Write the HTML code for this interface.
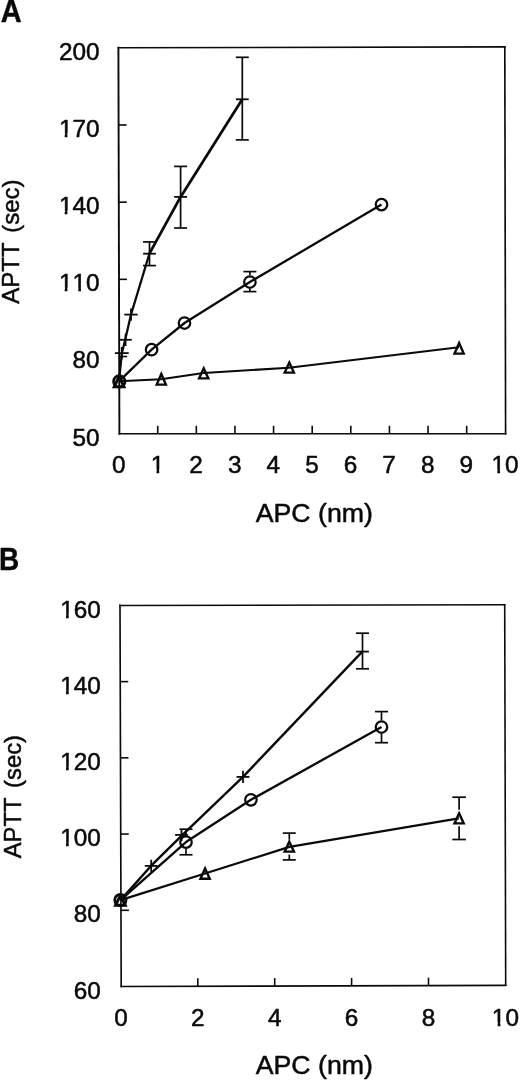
<!DOCTYPE html>
<html lang="en">
<head>
<meta charset="utf-8">
<title>APTT vs APC</title>
<style>
html,body{margin:0;padding:0;background:#fff;}
body{width:520px;height:1081px;overflow:hidden;}
svg{display:block;}
svg text{font-family:"Liberation Sans", sans-serif;fill:#0a0a0a;stroke:#0a0a0a;stroke-linejoin:round;font-kerning:none;}
svg line,svg polyline,svg circle,svg path,svg polygon,svg rect{stroke:#0a0a0a;}
</style>
</head>
<body>
<svg width="520" height="1081" viewBox="0 0 520 1081">
<rect x="0" y="0" width="520" height="1081" fill="#ffffff" stroke="none" style="stroke:none"/>
<g id="panelA">
<text transform="translate(0.80,22.00) scale(0.94,1)" font-size="30.8" text-anchor="start" font-weight="bold" stroke-width="0.4" >A</text>
<line x1="119.40" y1="433.70" x2="118.40" y2="47.80" stroke-width="1.9" stroke-linecap="square"/>
<line x1="118.40" y1="47.80" x2="504.80" y2="46.90" stroke-width="1.55" stroke-linecap="square"/>
<line x1="504.80" y1="46.90" x2="505.60" y2="433.70" stroke-width="1.65" stroke-linecap="square"/>
<line x1="505.60" y1="433.70" x2="119.40" y2="433.70" stroke-width="1.6" stroke-linecap="square"/>
<text transform="translate(99.50,445.60) scale(1.05,1)" font-size="23.2" text-anchor="end" font-weight="normal" stroke-width="0.5" >50</text>
<line x1="119.20" y1="356.52" x2="127.20" y2="356.52" stroke-width="1.6" stroke-linecap="butt"/>
<text transform="translate(99.50,368.42) scale(1.05,1)" font-size="23.2" text-anchor="end" font-weight="normal" stroke-width="0.5" >80</text>
<line x1="119.00" y1="279.34" x2="127.00" y2="279.34" stroke-width="1.6" stroke-linecap="butt"/>
<text transform="translate(99.50,291.24) scale(1.05,1)" font-size="23.2" text-anchor="end" font-weight="normal" stroke-width="0.5" >110</text>
<rect x="59.41" y="287.51" width="5.25" height="5.13" fill="#fff" style="stroke:none"/>
<rect x="67.45" y="287.51" width="5.06" height="5.13" fill="#fff" style="stroke:none"/>
<rect x="72.96" y="287.51" width="5.25" height="5.13" fill="#fff" style="stroke:none"/>
<rect x="81.00" y="287.51" width="5.06" height="5.13" fill="#fff" style="stroke:none"/>
<line x1="118.80" y1="202.16" x2="126.80" y2="202.16" stroke-width="1.6" stroke-linecap="butt"/>
<text transform="translate(99.50,214.06) scale(1.05,1)" font-size="23.2" text-anchor="end" font-weight="normal" stroke-width="0.5" >140</text>
<rect x="59.41" y="210.33" width="5.25" height="5.13" fill="#fff" style="stroke:none"/>
<rect x="67.45" y="210.33" width="5.06" height="5.13" fill="#fff" style="stroke:none"/>
<line x1="118.60" y1="124.98" x2="126.60" y2="124.98" stroke-width="1.6" stroke-linecap="butt"/>
<text transform="translate(99.50,136.88) scale(1.05,1)" font-size="23.2" text-anchor="end" font-weight="normal" stroke-width="0.5" >170</text>
<rect x="59.41" y="133.15" width="5.25" height="5.13" fill="#fff" style="stroke:none"/>
<rect x="67.45" y="133.15" width="5.06" height="5.13" fill="#fff" style="stroke:none"/>
<text transform="translate(99.50,59.70) scale(1.05,1)" font-size="23.2" text-anchor="end" font-weight="normal" stroke-width="0.5" >200</text>
<text transform="translate(118.80,473.00) scale(1.05,1)" font-size="23.2" text-anchor="middle" font-weight="normal" stroke-width="0.5" >0</text>
<line x1="157.72" y1="433.70" x2="157.72" y2="425.80" stroke-width="1.6" stroke-linecap="butt"/>
<text transform="translate(157.42,473.00) scale(1.05,1)" font-size="23.2" text-anchor="middle" font-weight="normal" stroke-width="0.5" >1</text>
<rect x="151.20" y="469.27" width="5.25" height="5.13" fill="#fff" style="stroke:none"/>
<rect x="159.24" y="469.27" width="5.06" height="5.13" fill="#fff" style="stroke:none"/>
<line x1="196.34" y1="433.70" x2="196.34" y2="425.80" stroke-width="1.6" stroke-linecap="butt"/>
<text transform="translate(196.04,473.00) scale(1.05,1)" font-size="23.2" text-anchor="middle" font-weight="normal" stroke-width="0.5" >2</text>
<line x1="234.96" y1="433.70" x2="234.96" y2="425.80" stroke-width="1.6" stroke-linecap="butt"/>
<text transform="translate(234.66,473.00) scale(1.05,1)" font-size="23.2" text-anchor="middle" font-weight="normal" stroke-width="0.5" >3</text>
<line x1="273.58" y1="433.70" x2="273.58" y2="425.80" stroke-width="1.6" stroke-linecap="butt"/>
<text transform="translate(273.28,473.00) scale(1.05,1)" font-size="23.2" text-anchor="middle" font-weight="normal" stroke-width="0.5" >4</text>
<line x1="312.20" y1="433.70" x2="312.20" y2="425.80" stroke-width="1.6" stroke-linecap="butt"/>
<text transform="translate(311.90,473.00) scale(1.05,1)" font-size="23.2" text-anchor="middle" font-weight="normal" stroke-width="0.5" >5</text>
<line x1="350.82" y1="433.70" x2="350.82" y2="425.80" stroke-width="1.6" stroke-linecap="butt"/>
<text transform="translate(350.52,473.00) scale(1.05,1)" font-size="23.2" text-anchor="middle" font-weight="normal" stroke-width="0.5" >6</text>
<line x1="389.44" y1="433.70" x2="389.44" y2="425.80" stroke-width="1.6" stroke-linecap="butt"/>
<text transform="translate(389.14,473.00) scale(1.05,1)" font-size="23.2" text-anchor="middle" font-weight="normal" stroke-width="0.5" >7</text>
<line x1="428.06" y1="433.70" x2="428.06" y2="425.80" stroke-width="1.6" stroke-linecap="butt"/>
<text transform="translate(427.76,473.00) scale(1.05,1)" font-size="23.2" text-anchor="middle" font-weight="normal" stroke-width="0.5" >8</text>
<line x1="466.68" y1="433.70" x2="466.68" y2="425.80" stroke-width="1.6" stroke-linecap="butt"/>
<text transform="translate(466.38,473.00) scale(1.05,1)" font-size="23.2" text-anchor="middle" font-weight="normal" stroke-width="0.5" >9</text>
<text transform="translate(505.00,473.00) scale(1.05,1)" font-size="23.2" text-anchor="middle" font-weight="normal" stroke-width="0.5" >10</text>
<rect x="492.01" y="469.27" width="5.25" height="5.13" fill="#fff" style="stroke:none"/>
<rect x="500.05" y="469.27" width="5.06" height="5.13" fill="#fff" style="stroke:none"/>
<text transform="translate(255.70,522.30) scale(1.04,1)" font-size="25.7" text-anchor="start" font-weight="normal" stroke-width="0.5" >APC (nm)</text>
<text transform="translate(19.0,303.8) rotate(-90)" font-size="24.0" stroke-width="0.5"><tspan>APTT</tspan><tspan dx="9.6">(sec)</tspan></text>
<polyline points="119.00,381.30 121.80,353.60 125.20,339.80 131.00,314.60 149.40,253.70" fill="none" stroke-width="2.25" stroke-linejoin="round"/>
<polyline points="149.40,253.70 180.60,196.90 242.30,99.30" fill="none" stroke-width="2.75" stroke-linejoin="round"/>
<line x1="119.40" y1="339.80" x2="131.80" y2="339.80" stroke-width="1.8" stroke-linecap="butt"/>
<line x1="125.60" y1="333.60" x2="125.60" y2="346.00" stroke-width="1.8" stroke-linecap="butt"/>
<line x1="124.30" y1="314.60" x2="137.70" y2="314.60" stroke-width="1.8" stroke-linecap="butt"/>
<line x1="131.00" y1="308.40" x2="131.00" y2="320.80" stroke-width="1.8" stroke-linecap="butt"/>
<line x1="114.90" y1="353.10" x2="128.70" y2="353.10" stroke-width="1.8" stroke-linecap="butt"/>
<line x1="121.80" y1="346.90" x2="121.80" y2="359.30" stroke-width="1.8" stroke-linecap="butt"/>
<line x1="143.10" y1="253.70" x2="155.90" y2="253.70" stroke-width="1.8" stroke-linecap="butt"/>
<line x1="149.50" y1="253.70" x2="149.50" y2="253.70" stroke-width="1.8" stroke-linecap="butt"/>
<line x1="143.00" y1="241.90" x2="156.00" y2="241.90" stroke-width="1.7" stroke-linecap="butt"/>
<line x1="143.00" y1="265.60" x2="156.00" y2="265.60" stroke-width="1.7" stroke-linecap="butt"/>
<line x1="149.50" y1="241.90" x2="149.50" y2="265.60" stroke-width="1.7" stroke-linecap="butt"/>
<line x1="174.20" y1="196.90" x2="187.00" y2="196.90" stroke-width="1.8" stroke-linecap="butt"/>
<line x1="180.60" y1="196.90" x2="180.60" y2="196.90" stroke-width="1.8" stroke-linecap="butt"/>
<line x1="174.10" y1="166.40" x2="187.10" y2="166.40" stroke-width="1.7" stroke-linecap="butt"/>
<line x1="174.10" y1="228.00" x2="187.10" y2="228.00" stroke-width="1.7" stroke-linecap="butt"/>
<line x1="180.60" y1="166.40" x2="180.60" y2="228.00" stroke-width="1.7" stroke-linecap="butt"/>
<line x1="235.90" y1="99.30" x2="248.70" y2="99.30" stroke-width="1.8" stroke-linecap="butt"/>
<line x1="242.30" y1="99.30" x2="242.30" y2="99.30" stroke-width="1.8" stroke-linecap="butt"/>
<line x1="235.80" y1="57.30" x2="248.80" y2="57.30" stroke-width="1.7" stroke-linecap="butt"/>
<line x1="235.80" y1="139.90" x2="248.80" y2="139.90" stroke-width="1.7" stroke-linecap="butt"/>
<line x1="242.30" y1="57.30" x2="242.30" y2="139.90" stroke-width="1.7" stroke-linecap="butt"/>
<polyline points="119.00,381.30 151.60,349.70 184.50,323.00 249.90,282.00 381.50,204.60" fill="none" stroke-width="2.3" stroke-linejoin="round"/>
<circle cx="119.30" cy="381.40" r="5.75" fill="none" stroke-width="2.7"/>
<circle cx="151.60" cy="349.70" r="5.75" fill="none" stroke-width="2.25"/>
<circle cx="184.50" cy="323.00" r="5.75" fill="none" stroke-width="2.25"/>
<circle cx="249.90" cy="282.00" r="5.75" fill="none" stroke-width="2.25"/>
<circle cx="381.50" cy="204.60" r="5.75" fill="none" stroke-width="2.25"/>
<line x1="243.40" y1="271.60" x2="256.40" y2="271.60" stroke-width="1.7" stroke-linecap="butt"/>
<line x1="243.40" y1="291.60" x2="256.40" y2="291.60" stroke-width="1.7" stroke-linecap="butt"/>
<line x1="249.90" y1="271.60" x2="249.90" y2="275.30" stroke-width="1.7" stroke-linecap="butt"/>
<line x1="249.90" y1="288.70" x2="249.90" y2="291.60" stroke-width="1.7" stroke-linecap="butt"/>
<polyline points="119.00,381.30 161.10,379.20 203.50,373.00 288.90,367.70 459.00,347.20" fill="none" stroke-width="2.1" stroke-linejoin="round"/>
<path d="M119.10 376.50 L124.00 386.90 L114.20 386.90 Z" fill="none" stroke-width="2.9" stroke-linejoin="miter"/>
<path d="M161.30 374.00 L165.90 384.60 L156.70 384.60 Z" fill="none" stroke-width="2.4" stroke-linejoin="miter"/>
<path d="M203.70 368.30 L208.30 378.40 L199.10 378.40 Z" fill="none" stroke-width="2.4" stroke-linejoin="miter"/>
<path d="M289.30 362.60 L293.90 372.60 L284.70 372.60 Z" fill="none" stroke-width="2.4" stroke-linejoin="miter"/>
<path d="M459.10 343.00 L463.70 353.60 L454.50 353.60 Z" fill="none" stroke-width="2.4" stroke-linejoin="miter"/>
</g>
<g id="panelB">
<text transform="translate(-0.90,570.30) scale(0.91,1)" font-size="30.8" text-anchor="start" font-weight="bold" stroke-width="0.4" >B</text>
<line x1="121.20" y1="986.50" x2="120.00" y2="605.40" stroke-width="1.65" stroke-linecap="square"/>
<line x1="120.00" y1="605.40" x2="504.70" y2="604.80" stroke-width="1.55" stroke-linecap="square"/>
<line x1="504.70" y1="604.80" x2="505.70" y2="985.30" stroke-width="1.6" stroke-linecap="square"/>
<line x1="505.70" y1="985.30" x2="121.20" y2="986.50" stroke-width="1.65" stroke-linecap="square"/>
<text transform="translate(100.80,998.70) scale(1.05,1)" font-size="23.2" text-anchor="end" font-weight="normal" stroke-width="0.5" >60</text>
<line x1="120.96" y1="910.28" x2="128.96" y2="910.28" stroke-width="1.6" stroke-linecap="butt"/>
<text transform="translate(100.80,922.48) scale(1.05,1)" font-size="23.2" text-anchor="end" font-weight="normal" stroke-width="0.5" >80</text>
<line x1="120.72" y1="834.06" x2="128.72" y2="834.06" stroke-width="1.6" stroke-linecap="butt"/>
<text transform="translate(100.80,846.26) scale(1.05,1)" font-size="23.2" text-anchor="end" font-weight="normal" stroke-width="0.5" >100</text>
<rect x="60.71" y="842.53" width="5.25" height="5.13" fill="#fff" style="stroke:none"/>
<rect x="68.75" y="842.53" width="5.06" height="5.13" fill="#fff" style="stroke:none"/>
<line x1="120.48" y1="757.84" x2="128.48" y2="757.84" stroke-width="1.6" stroke-linecap="butt"/>
<text transform="translate(100.80,770.04) scale(1.05,1)" font-size="23.2" text-anchor="end" font-weight="normal" stroke-width="0.5" >120</text>
<rect x="60.71" y="766.31" width="5.25" height="5.13" fill="#fff" style="stroke:none"/>
<rect x="68.75" y="766.31" width="5.06" height="5.13" fill="#fff" style="stroke:none"/>
<line x1="120.24" y1="681.62" x2="128.24" y2="681.62" stroke-width="1.6" stroke-linecap="butt"/>
<text transform="translate(100.80,693.82) scale(1.05,1)" font-size="23.2" text-anchor="end" font-weight="normal" stroke-width="0.5" >140</text>
<rect x="60.71" y="690.09" width="5.25" height="5.13" fill="#fff" style="stroke:none"/>
<rect x="68.75" y="690.09" width="5.06" height="5.13" fill="#fff" style="stroke:none"/>
<text transform="translate(100.80,617.60) scale(1.05,1)" font-size="23.2" text-anchor="end" font-weight="normal" stroke-width="0.5" >160</text>
<rect x="60.71" y="613.87" width="5.25" height="5.13" fill="#fff" style="stroke:none"/>
<rect x="68.75" y="613.87" width="5.06" height="5.13" fill="#fff" style="stroke:none"/>
<text transform="translate(120.90,1025.70) scale(1.05,1)" font-size="23.2" text-anchor="middle" font-weight="normal" stroke-width="0.5" >0</text>
<line x1="197.80" y1="986.26" x2="197.80" y2="978.36" stroke-width="1.6" stroke-linecap="butt"/>
<text transform="translate(197.80,1025.70) scale(1.05,1)" font-size="23.2" text-anchor="middle" font-weight="normal" stroke-width="0.5" >2</text>
<line x1="274.70" y1="986.02" x2="274.70" y2="978.12" stroke-width="1.6" stroke-linecap="butt"/>
<text transform="translate(274.70,1025.70) scale(1.05,1)" font-size="23.2" text-anchor="middle" font-weight="normal" stroke-width="0.5" >4</text>
<line x1="351.60" y1="985.78" x2="351.60" y2="977.88" stroke-width="1.6" stroke-linecap="butt"/>
<text transform="translate(351.60,1025.70) scale(1.05,1)" font-size="23.2" text-anchor="middle" font-weight="normal" stroke-width="0.5" >6</text>
<line x1="428.50" y1="985.54" x2="428.50" y2="977.64" stroke-width="1.6" stroke-linecap="butt"/>
<text transform="translate(428.50,1025.70) scale(1.05,1)" font-size="23.2" text-anchor="middle" font-weight="normal" stroke-width="0.5" >8</text>
<text transform="translate(505.40,1025.70) scale(1.05,1)" font-size="23.2" text-anchor="middle" font-weight="normal" stroke-width="0.5" >10</text>
<rect x="492.41" y="1021.97" width="5.25" height="5.13" fill="#fff" style="stroke:none"/>
<rect x="500.45" y="1021.97" width="5.06" height="5.13" fill="#fff" style="stroke:none"/>
<text transform="translate(255.70,1073.60) scale(1.04,1)" font-size="25.7" text-anchor="start" font-weight="normal" stroke-width="0.5" >APC (nm)</text>
<text transform="translate(20.8,858.3) rotate(-90)" font-size="23.8" stroke-width="0.5"><tspan>APTT</tspan><tspan dx="9.6">(sec)</tspan></text>
<polyline points="120.50,900.10 151.20,865.70 182.00,835.30 243.00,776.90 362.30,651.60" fill="none" stroke-width="2.4" stroke-linejoin="round"/>
<line x1="144.80" y1="865.90" x2="157.60" y2="865.90" stroke-width="1.8" stroke-linecap="butt"/>
<line x1="151.20" y1="859.70" x2="151.20" y2="872.10" stroke-width="1.8" stroke-linecap="butt"/>
<line x1="175.10" y1="834.90" x2="187.90" y2="834.90" stroke-width="1.8" stroke-linecap="butt"/>
<line x1="181.50" y1="828.70" x2="181.50" y2="841.10" stroke-width="1.8" stroke-linecap="butt"/>
<line x1="236.60" y1="776.90" x2="249.40" y2="776.90" stroke-width="1.8" stroke-linecap="butt"/>
<line x1="243.00" y1="770.70" x2="243.00" y2="783.10" stroke-width="1.8" stroke-linecap="butt"/>
<line x1="356.10" y1="651.60" x2="368.90" y2="651.60" stroke-width="1.8" stroke-linecap="butt"/>
<line x1="362.50" y1="651.60" x2="362.50" y2="651.60" stroke-width="1.8" stroke-linecap="butt"/>
<line x1="356.00" y1="633.20" x2="369.00" y2="633.20" stroke-width="1.7" stroke-linecap="butt"/>
<line x1="356.00" y1="668.80" x2="369.00" y2="668.80" stroke-width="1.7" stroke-linecap="butt"/>
<line x1="362.50" y1="633.20" x2="362.50" y2="668.80" stroke-width="1.7" stroke-linecap="butt"/>
<polyline points="120.50,900.10 186.00,842.10 250.90,799.80 381.50,727.00" fill="none" stroke-width="2.35" stroke-linejoin="round"/>
<circle cx="120.40" cy="900.10" r="5.7" fill="none" stroke-width="2.7"/>
<circle cx="186.00" cy="842.10" r="5.75" fill="none" stroke-width="2.25"/>
<circle cx="250.90" cy="799.80" r="5.75" fill="none" stroke-width="2.25"/>
<circle cx="381.50" cy="727.00" r="5.75" fill="none" stroke-width="2.25"/>
<line x1="179.50" y1="829.20" x2="192.50" y2="829.20" stroke-width="1.7" stroke-linecap="butt"/>
<line x1="179.50" y1="854.80" x2="192.50" y2="854.80" stroke-width="1.7" stroke-linecap="butt"/>
<line x1="186.00" y1="829.20" x2="186.00" y2="835.50" stroke-width="1.7" stroke-linecap="butt"/>
<line x1="186.00" y1="848.70" x2="186.00" y2="854.80" stroke-width="1.7" stroke-linecap="butt"/>
<line x1="375.00" y1="711.60" x2="388.00" y2="711.60" stroke-width="1.7" stroke-linecap="butt"/>
<line x1="375.00" y1="742.70" x2="388.00" y2="742.70" stroke-width="1.7" stroke-linecap="butt"/>
<line x1="381.50" y1="711.60" x2="381.50" y2="720.40" stroke-width="1.7" stroke-linecap="butt"/>
<line x1="381.50" y1="733.60" x2="381.50" y2="742.70" stroke-width="1.7" stroke-linecap="butt"/>
<polyline points="120.50,900.10 205.00,873.50 289.40,846.90 458.80,818.30" fill="none" stroke-width="2.25" stroke-linejoin="round"/>
<path d="M120.40 895.40 L125.30 905.30 L115.50 905.30 Z" fill="none" stroke-width="2.9" stroke-linejoin="miter"/>
<path d="M205.10 868.40 L209.70 878.70 L200.50 878.70 Z" fill="none" stroke-width="2.4" stroke-linejoin="miter"/>
<path d="M289.30 841.70 L293.90 851.60 L284.70 851.60 Z" fill="none" stroke-width="2.4" stroke-linejoin="miter"/>
<path d="M459.10 813.30 L463.70 823.40 L454.50 823.40 Z" fill="none" stroke-width="2.4" stroke-linejoin="miter"/>
<line x1="282.80" y1="833.10" x2="295.80" y2="833.10" stroke-width="1.7" stroke-linecap="butt"/>
<line x1="282.80" y1="859.90" x2="295.80" y2="859.90" stroke-width="1.7" stroke-linecap="butt"/>
<line x1="289.30" y1="833.10" x2="289.30" y2="839.60" stroke-width="1.7" stroke-linecap="butt"/>
<line x1="289.30" y1="854.60" x2="289.30" y2="859.90" stroke-width="1.7" stroke-linecap="butt"/>
<line x1="452.30" y1="797.20" x2="465.90" y2="797.20" stroke-width="1.7" stroke-linecap="butt"/>
<line x1="452.30" y1="839.50" x2="465.90" y2="839.50" stroke-width="1.7" stroke-linecap="butt"/>
<line x1="459.10" y1="797.20" x2="459.10" y2="809.80" stroke-width="1.7" stroke-linecap="butt"/>
<line x1="459.10" y1="826.30" x2="459.10" y2="839.50" stroke-width="1.7" stroke-linecap="butt"/>
</g>
</svg>
</body>
</html>
